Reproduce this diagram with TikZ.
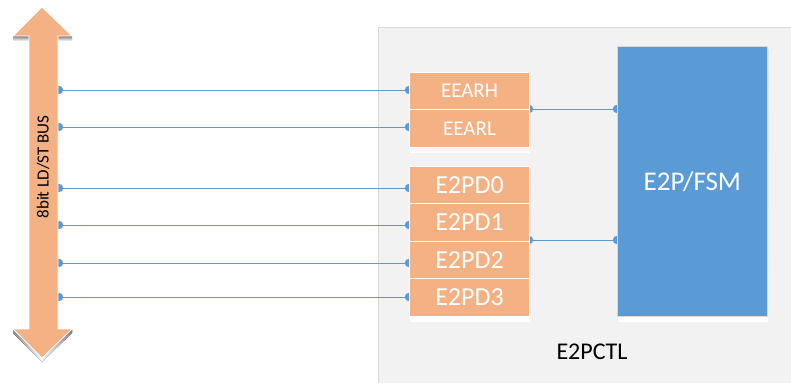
\documentclass[tikz,border=0pt]{standalone}
\usepackage{fontspec}
\setmainfont{Carlito}
\definecolor{peach}{HTML}{F4B183}
\definecolor{blu}{HTML}{5B9BD5}
\definecolor{shade}{HTML}{D5E0EC}
\definecolor{panel}{HTML}{F2F2F2}
\definecolor{panelline}{HTML}{DADADA}
\begin{document}
\begin{tikzpicture}[x=1pt,y=-1pt,
  reg/.style={draw=white,line width=1pt,fill=peach,minimum width=120pt,inner sep=0pt,text=white,anchor=north west},
  wire/.style={draw=blu,line width=0.9pt},
  dot/.style={fill=blu,draw=none}]
\useasboundingbox (0,0) rectangle (791,383);
% panel
\fill[panel] (378,27) rectangle (791,383);
\draw[panelline,line width=1pt] (378,383) -- (378,27) -- (791,27);
\node[font=\fontsize{24}{24}\selectfont] (ctl) at (592,352) {E2PCTL};
% shadows
\fill[shade] (410,112) rectangle (530,152);
\fill[shade] (410,169) rectangle (530,321);
\fill[shade] (618,49) rectangle (768,321);
% wires with dots (drawn under boxes)
\foreach \y/\n in {90/a,127/b,188/c,225/d,263/e,297/f}{
  \coordinate (bus\n) at (59,\y);
  \coordinate (in\n) at (409,\y);
}
\foreach \n in {a,b,c,d,e,f}{
  \draw[wire] (bus\n) -- (in\n);
  \fill[dot] (bus\n) circle (4.2);
  \fill[dot] (in\n) circle (4.2);
}
\coordinate (ga) at (529,109);
\coordinate (fa) at (617,109);
\coordinate (gb) at (529,240);
\coordinate (fb) at (617,240);
\draw[wire] (ga) -- (fa);
\draw[wire] (gb) -- (fb);
\foreach \p in {ga,fa,gb,fb}{\fill[dot] (\p) circle (4.2);}
% bus arrow
\fill[shade] (13,41) -- (29,41) -- (29,36) -- (13,36) -- cycle;
\fill[shade] (58,41) -- (72,41) -- (72,36) -- (58,36) -- cycle;
\fill[shade] (13,333) -- (42,362) -- (72,333) -- (72,329) -- (13,329) -- cycle;
\fill[peach,draw=white,line width=0.8pt] (42,7) -- (72,36) -- (58,36) -- (58,329) -- (72,329) -- (42,358) -- (13,329) -- (29,329) -- (29,36) -- (13,36) -- cycle;
\node[rotate=90,font=\fontsize{17}{17}\selectfont] (bus) at (43,167) {8bit LD/ST BUS};
% registers
\node[reg,minimum height=37pt,font=\fontsize{21}{21}\selectfont] (eearh) at (409,72) {EEARH};
\node[reg,minimum height=38pt,font=\fontsize{21}{21}\selectfont] (eearl) at (409,109) {EEARL};
\node[reg,minimum height=37pt,font=\fontsize{26}{26}\selectfont] (pd0) at (409,166) {E2PD0};
\node[reg,minimum height=38pt,font=\fontsize{26}{26}\selectfont] (pd1) at (409,203) {E2PD1};
\node[reg,minimum height=37pt,font=\fontsize{26}{26}\selectfont] (pd2) at (409,241) {E2PD2};
\node[reg,minimum height=38pt,font=\fontsize{26}{26}\selectfont] (pd3) at (409,278) {E2PD3};
% FSM
\node[draw=panelline,line width=0.8pt,fill=blu,minimum width=150pt,minimum height=270pt,anchor=north west,text=white,font=\fontsize{27}{27}\selectfont] (fsm) at (617,46) {E2P/FSM};
\end{tikzpicture}
\end{document}
